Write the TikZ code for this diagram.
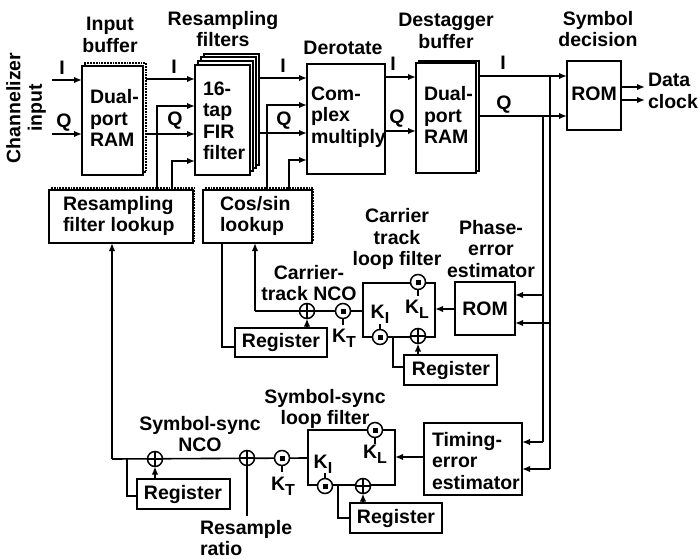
\documentclass[tikz,border=0pt]{standalone}
\usepackage{fontspec}
\setmainfont{Liberation Sans}
\usetikzlibrary{arrows.meta}
\pgfdeclarelayer{front}
\pgfsetlayers{main,front}
\newcommand{\bx}[6][]{\node[boxn,#1,minimum width={(#5-#3)*1pt},minimum height={(#6-#4)*1pt}] (#2) at ({(#3+#5)/2},{(#4+#6)/2}) {};}
\newcommand{\Ksub}[1]{K\raisebox{-5pt}{\fontsize{16}{16}\selectfont\bfseries #1}}
\tikzset{
  boxn/.style={draw,line width=1.8pt,fill=white,inner sep=0pt,outer sep=0pt},
  lab/.style={inner sep=0pt,outer sep=0pt,align=center,font=\fontsize{19.5}{21.5}\selectfont\bfseries},
  labl/.style={lab,align=left,anchor=west},
  wire/.style={line width=1.6pt},
  arr/.style={wire,-{Latex[length=8pt,width=6.5pt]}},
  shadowl/.style={line width=1.8pt,densely dotted},
  adder/.style={circle,draw,line width=1.5pt,fill=white,minimum size=15pt,inner sep=0pt,outer sep=0pt,
    path picture={\draw[line width=1.2pt] (path picture bounding box.north) -- (path picture bounding box.south)
      (path picture bounding box.west) -- (path picture bounding box.east);}},
  multn/.style={circle,draw,line width=1.5pt,fill=white,minimum size=15pt,inner sep=0pt,outer sep=0pt,
    path picture={\fill[black] ([xshift=-2.5pt,yshift=-2.5pt]path picture bounding box.center) rectangle ([xshift=2.5pt,yshift=2.5pt]path picture bounding box.center);}},
}
\begin{document}
\begin{tikzpicture}[x=1pt,y=-1pt]
\useasboundingbox (0,0) rectangle (699,559);
% main boxes
\bx[xshift=3pt,yshift=3pt,shadowl]{inbufs}{82}{66}{143}{175}
\bx{inbuf}{82}{66}{143}{175}
\bx{firc}{204}{54}{259}{165}
\bx{firb}{201}{57}{256}{168}
\bx{fira}{198}{61}{253}{171}
\bx{fir}{195}{65}{250}{175}
\bx{derot}{307}{64}{385}{174}
\bx[xshift=3pt,yshift=2pt,line width=1.2pt]{destags}{416}{63}{476}{173}
\bx{destag}{416}{63}{476}{173}
\bx{symrom}{567}{61}{621}{130}
\bx[xshift=1.5pt,yshift=2pt,shadowl]{rflus}{49}{190}{193}{243}
\bx{rflu}{49}{190}{193}{243}
\bx[xshift=1.5pt,yshift=2pt,shadowl]{cslus}{203}{190}{312}{243}
\bx{cslu}{203}{190}{312}{243}
\bx{perom}{455}{282}{515}{335}
\bx{cloop}{363}{283}{435}{337}
\bx{creg}{235}{328}{327}{357}
\bx{creg2}{404}{355}{497}{385}
\bx{timing}{424}{423}{522}{495}
\bx{sloop}{308}{430}{395}{485}
\bx{sreg}{137}{479}{230}{509}
\bx{sreg2}{350}{503}{442}{533}
% junctions
\begin{pgfonlayer}{front}
\node[adder] (cadd) at (307,311) {};
\node[multn] (ckt) at (343,311) {};
\node[multn] (ckl) at (418,282) {};
\node[adder] (cadd2) at (418,336) {};
\node[multn] (cki) at (380,337) {};
\node[adder] (sadd) at (155,459) {};
\node[adder] (radd) at (247,458) {};
\node[multn] (skt) at (282,458) {};
\node[multn] (skl) at (375,430) {};
\node[adder] (sadd2) at (363,486) {};
\node[multn] (ski) at (325,486) {};
\end{pgfonlayer}
% free ends and taps
\coordinate (inI) at (52,80);
\coordinate (inQ) at (52,134);
\coordinate (ratio) at (247,516);
\coordinate (rfa) at (157,106);
\coordinate (rfb) at (172,161);
\coordinate (csa) at (267,105);
\coordinate (csb) at (289,160);
\coordinate (tapQ) at (543,116);
\coordinate (tapI) at (550,76);
\coordinate (pQ) at (543,295);
\coordinate (pI) at (550,323);
\coordinate (tQ) at (543,442);
\coordinate (tI) at (550,469);
\coordinate (clu1) at (222,347);
\coordinate (clu2) at (255,311);
\coordinate (cr2) at (393,367);
\coordinate (sl1) at (112,459);
\coordinate (srl) at (127,496);
\coordinate (sr2) at (338,518);
% top connectors
\draw[arr] (inI) -- (inI -| inbuf.west);
\draw[arr] (inQ) -- (inQ -| inbuf.west);
\draw[arr] (146,79) -- (195,79);
\draw[arr] (146,134) -- (195,134);
\draw[arr] (rfa |- rflu.north) -- (rfa) -- (rfa -| fir.west);
\draw[arr] (rfb |- rflu.north) -- (rfb) -- (rfb -| fir.west);
\draw[arr] (259,78) -- (307,78);
\draw[arr] (259,133) -- (307,133);
\draw[arr] (csa |- cslu.north) -- (csa) -- (csa -| derot.west);
\draw[arr] (csb |- cslu.north) -- (csb) -- (csb -| derot.west);
\draw[arr] (385,77) -- (416,77);
\draw[arr] (385,131) -- (416,131);
\draw[arr] (479,76) -- (567,76);
\draw[arr] (479,116) -- (567,116);
\draw[arr] (621,87) -- (645,87);
\draw[arr] (621,100) -- (645,100);
% right side verticals
\draw[wire] (tapQ) -- (tQ);
\draw[wire] (tapI) -- (tI);
\draw[arr] (pQ) -- (pQ -| perom.east);
\draw[arr] (pI) -- (pI -| perom.east);
\draw[arr] (tQ) -- (tQ -| timing.east);
\draw[arr] (tI) -- (tI -| timing.east);
% carrier loop
\draw[arr] (perom.west |- 0,309) -- (cloop.east |- 0,309);
\draw[wire] (ckt -| cloop.west) -- (clu2);
\draw[arr] (clu2) -- (clu2 |- cslu.south);
\draw[wire] (clu1 |- cslu.south) -- (clu1) -- (clu1 -| creg.west);
\draw[wire] (cr2 |- cki) -- (cr2) -- (cr2 -| creg2.west);
\draw[arr] (cadd2 |- creg2.north) -- (cadd2.south);
\draw[arr] (cadd |- creg.north) -- (cadd.south);
% symbol loop
\draw[arr] (timing.west |- 0,457) -- (sloop.east |- 0,457);
\draw[wire] (sloop.west |- skt) -- (sl1);
\draw[arr] (sl1) -- (sl1 |- rflu.south);
\draw[wire] (srl |- sadd) -- (srl) -- (srl -| sreg.west);
\draw[wire] (radd) -- (ratio);
\draw[wire] (sr2 |- ski) -- (sr2) -- (sr2 -| sreg2.west);
\draw[arr] (sadd |- sreg.north) -- (sadd.south);
\draw[arr] (sadd2 |- sreg2.north) -- (sadd2.south);
% ticks from the gain circles
\draw[wire] (ckt.south) -- ++(0,6);
\draw[wire] (ckl.south) -- ++(0,6);
\draw[wire] (cki.north) -- ++(0,-6);
\draw[wire] (skt.south) -- ++(0,6);
\draw[wire] (skl.south) -- ++(0,6);
\draw[wire] (ski.north) -- ++(0,-6);
% labels
\node[lab,rotate=90] (tchan) at (26,108) {Channelizer\\input};
\node[lab] (l1) at (62,68) {I};
\node[lab] (l2) at (64,123) {Q};
\node[lab] (l3) at (110,35) {Input\\buffer};
\node[lab] (l4) at (223,29) {Resampling\\filters};
\node[lab] (l5) at (174,67) {I};
\node[lab] (l6) at (175,121) {Q};
\node[labl] (l7) at (90,118) {Dual-\\port\\RAM};
\node[labl] (l8) at (203,121) {16-\\tap\\FIR\\filter};
\node[lab] (l9) at (283,66) {I};
\node[lab] (l10) at (284,121) {Q};
\node[lab] (l11) at (343,48) {Derotate};
\node[labl] (l12) at (311,117) {Com-\\plex\\multiply};
\node[lab] (l13) at (393,64) {I};
\node[lab] (l14) at (397,119) {Q};
\node[lab] (l15) at (446,31) {Destagger\\buffer};
\node[labl] (l16) at (424,115) {Dual-\\port\\RAM};
\node[lab] (l17) at (503,63) {I};
\node[lab] (l18) at (504,105) {Q};
\node[lab] (l19) at (598,29) {Symbol\\decision};
\node[lab] (l20) at (594,94) {ROM};
\node[labl] (l21) at (648,91) {Data\\clock};
\node[labl] (l22) at (63,216) {Resampling\\filter lookup};
\node[labl] (l23) at (220,216) {Cos/sin\\lookup};
\node[lab] (l24) at (309,283) {Carrier-\\track NCO};
\node[lab] (l25) at (397,239) {Carrier\\track\\loop filter};
\node[lab] (l26) at (491,249) {Phase-\\error\\estimator};
\node[lab] (l27) at (485,309) {ROM};
\node[lab] (l28) at (380,314) {\Ksub{I}};
\node[lab] (l29) at (417,309) {\Ksub{L}};
\node[lab] (l30) at (344,338) {\Ksub{T}};
\node[lab] (l31) at (281,342) {Register};
\node[lab] (l32) at (451,370) {Register};
\node[lab] (l33) at (325,409) {Symbol-sync\\loop filter};
\node[lab] (l34) at (200,434) {Symbol-sync\\NCO};
\node[lab] (l35) at (283,486) {\Ksub{T}};
\node[lab] (l36) at (323,464) {\Ksub{I}};
\node[lab] (l37) at (375,454) {\Ksub{L}};
\node[labl] (l38) at (432,461) {Timing-\\error\\estimator};
\node[lab] (l39) at (183,494) {Register};
\node[lab] (l40) at (396,518) {Register};
\node[labl] (l41) at (200,538) {Resample\\ratio};
\end{tikzpicture}
\end{document}
